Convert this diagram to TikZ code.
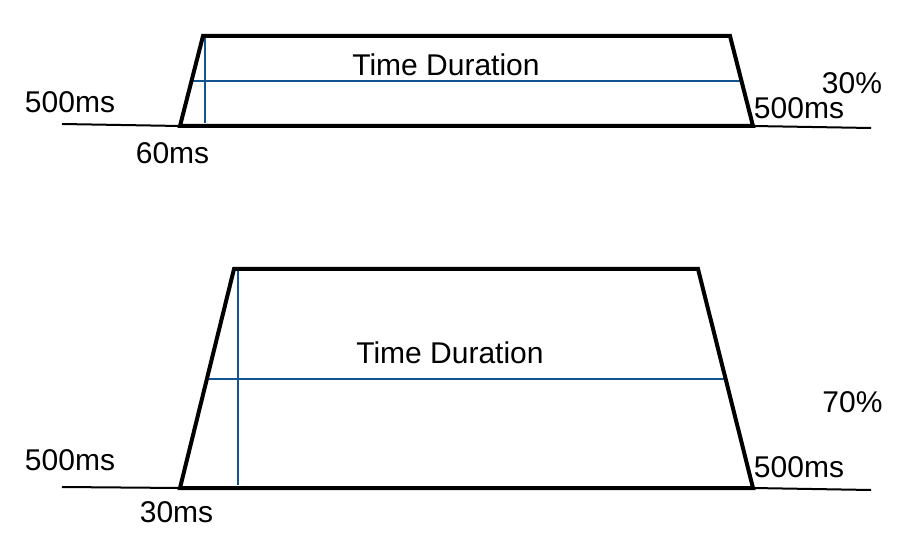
\documentclass[tikz,border=0pt]{standalone}
\usepackage{fontspec}
\setmainfont{Liberation Sans}
\definecolor{guide}{RGB}{18,84,146}
\begin{document}
\begin{tikzpicture}[x=1pt,y=-1pt,
  lbl/.style={inner sep=0pt,font=\fontsize{30}{36}\selectfont},
  pulse/.style={line width=4pt,line join=miter,black},
  lead/.style={line width=2pt,black},
  guideline/.style={line width=2pt,guide}]
\useasboundingbox[fill=white] (0,0) rectangle (916,540);
% top pulse
\coordinate (tbl) at (180,126);
\coordinate (ttl) at (203,36);
\coordinate (ttr) at (730,36);
\coordinate (tbr) at (753,126);
\coordinate (tl0) at (62,124);
\coordinate (tr0) at (871,128);
\draw[lead] (tl0) -- (tbl);
\draw[lead] (tbr) -- (tr0);
\draw[guideline] (205,36) -- (205,123);
\draw[guideline] (192,81) -- (743,81);
\draw[pulse] (tbl) -- (ttl) -- (ttr) -- (tbr) -- cycle;
\node[lbl] (t500l) at (70,102) {500ms};
\node[lbl] (t60) at (172.5,153) {60ms};
\node[lbl] (ttd) at (446,64.5) {Time Duration};
\node[lbl] (t30p) at (852,83) {30\%};
\node[lbl] (t500r) at (799,108) {500ms};
% bottom pulse
\coordinate (bbl) at (180,488);
\coordinate (btl) at (234,269);
\coordinate (btr) at (698,269);
\coordinate (bbr) at (753,488);
\coordinate (bl0) at (62,487);
\coordinate (br0) at (871,490);
\draw[lead] (bl0) -- (bbl);
\draw[lead] (bbr) -- (br0);
\draw[guideline] (238,269) -- (238,485);
\draw[guideline] (207,379) -- (726,379);
\draw[pulse] (bbl) -- (btl) -- (btr) -- (bbr) -- cycle;
\node[lbl] (b500l) at (70,460) {500ms};
\node[lbl] (b30) at (176.5,512) {30ms};
\node[lbl] (btd) at (450,353) {Time Duration};
\node[lbl] (b70p) at (852.5,402) {70\%};
\node[lbl] (b500r) at (799,467) {500ms};
\end{tikzpicture}
\end{document}
